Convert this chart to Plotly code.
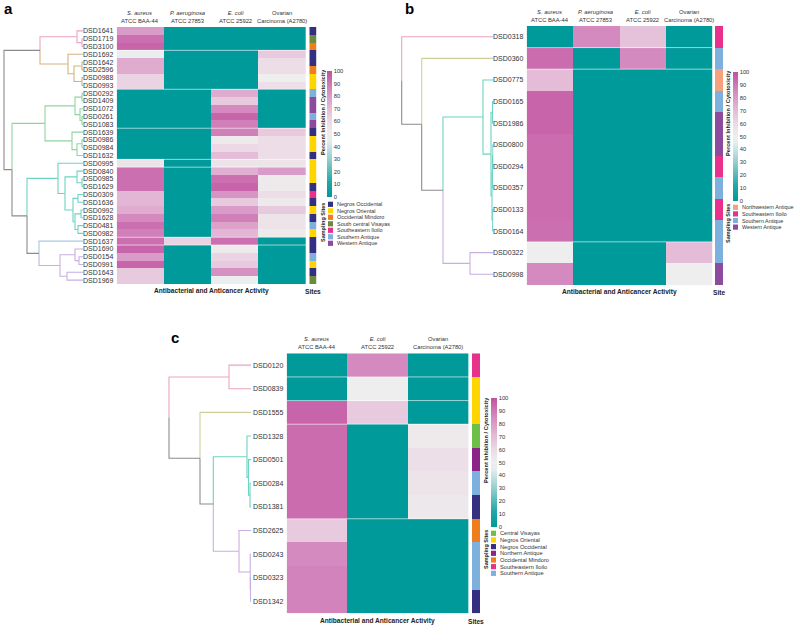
import plotly.graph_objects as go

W, H = 794, 626
FONT = "Liberation Sans, Arial, Helvetica, sans-serif"
TXT = "#333333"
GRAY = "#8c8c8c"


def fx(p):
    return p / W


def fy(p):
    return 1 - p / H


# ---------------- data ----------------
a_ids = ["DSD1641", "DSD1719", "DSD3100", "DSD1692", "DSD1642", "DSD2596", "DSD0988", "DSD0993",
         "DSD0292", "DSD1409", "DSD1072", "DSD0261", "DSD1083", "DSD1639", "DSD0986", "DSD0984",
         "DSD1632", "DSD0995", "DSD0840", "DSD0985", "DSD1629", "DSD0309", "DSD1636", "DSD0992",
         "DSD1628", "DSD0481", "DSD0982", "DSD1637", "DSD1690", "DSD0154", "DSD0991", "DSD1643",
         "DSD1969"]
a_sa = [80, 92, 95, 48, 75, 75, 62, 62, 0, 0, 0, 0, 0, 0, 0, 0, 0, 55, 92, 92, 92, 72, 72, 75,
        85, 92, 88, 92, 95, 80, 95, 65, 65]
a_pa = [0, 0, 0, 0, 0, 0, 0, 0, 0, 0, 0, 0, 0, 0, 0, 0, 0, 0, 0, 0, 0, 0, 0, 0,
        0, 0, 0, 62, 0, 0, 0, 0, 0]
a_ec = [0, 0, 0, 0, 0, 0, 0, 0, 75, 65, 85, 95, 88, 88, 52, 60, 70, 55, 74, 92, 95, 82, 65, 80,
        88, 78, 72, 92, 52, 62, 65, 83, 48]
a_ov = [0, 0, 0, 65, 58, 58, 50, 57, 0, 0, 0, 0, 0, 65, 58, 58, 58, 55, 80, 52, 52, 58, 52, 65,
        55, 55, 52, 0, 0, 0, 0, 0, 0]
a_site = ["Negros Occidental", "South central Visayas", "Occidental Mindoro", "Negros Occidental",
          "Negros Occidental", "Occidental Mindoro", "Negros Oriental", "Negros Oriental",
          "Southern Antique", "Western Antique", "Western Antique", "Southern Antique",
          "Western Antique", "Negros Occidental", "Negros Oriental", "Negros Oriental",
          "Negros Occidental", "Negros Oriental", "Negros Oriental", "Negros Oriental",
          "Negros Occidental", "Southeastern Iloilo", "Negros Occidental", "Negros Oriental",
          "Negros Occidental", "Southern Antique", "Negros Oriental", "Negros Occidental",
          "Negros Occidental", "Southern Antique", "Negros Oriental", "Negros Occidental",
          "South central Visayas"]
a_cols = ["<i>S. aureus</i><br>ATCC BAA-44", "<i>P. aeruginosa</i><br>ATCC 27853",
          "<i>E. coli</i><br>ATCC 25922", "Ovarian<br>Carcinoma (A2780)"]
a_site_order = ["Negros Occidental", "Negros Oriental", "Occidental Mindoro", "South central Visayas",
                "Southeastern Iloilo", "Southern Antique", "Western Antique"]
a_cluster = ["pink"] * 3 + ["tan"] * 5 + ["green"] * 9 + ["teal"] * 10 + ["blue"] + ["purple"] * 5
# merges: (child1, child2, height)
a_merges = [(1, 2, 1), (0, 33, 6), (4, 5, 1), (6, 7, 1), (35, 36, 9), (3, 37, 15), (34, 38, 43),
            (8, 9, 1), (11, 12, 1), (10, 41, 3), (40, 42, 8), (14, 15, 1), (44, 16, 6), (13, 45, 11),
            (43, 46, 38), (19, 20, 1), (18, 48, 6), (21, 22, 5), (23, 24, 2), (25, 26, 5), (51, 52, 8),
            (50, 53, 10), (49, 54, 18), (17, 55, 25), (29, 30, 4), (28, 57, 8), (31, 32, 16),
            (58, 59, 23), (27, 60, 44), (56, 61, 56), (47, 62, 71), (39, 63, 79)]
a_breaks = [2.5, 7.5, 12.5, 16.5, 17.5, 26.5, 27.5]

b_ids = ["DSD0318", "DSD0360", "DSD0775", "DSD0165", "DSD1986", "DSD0800", "DSD0294", "DSD0357",
         "DSD0133", "DSD0164", "DSD0322", "DSD0998"]
b_sa = [0, 93, 70, 95, 95, 93, 93, 93, 93, 92, 50, 85]
b_pa = [85, 0, 0, 0, 0, 0, 0, 0, 0, 0, 0, 0]
b_ec = [68, 85, 0, 0, 0, 0, 0, 0, 0, 0, 0, 0]
b_ov = [0, 0, 0, 0, 0, 0, 0, 0, 0, 0, 70, 50]
b_site = ["Southeastern Iloilo", "Southern Antique", "Northwestern Antique", "Southern Antique",
          "Western Antique", "Western Antique", "Southeastern Iloilo", "Southern Antique",
          "Southeastern Iloilo", "Southern Antique", "Southern Antique", "Western Antique"]
b_cols = a_cols
b_site_order = ["Northwestern Antique", "Southeastern Iloilo", "Southern Antique", "Western Antique"]
b_cluster = ["pink", "olive"] + ["teal"] * 8 + ["purple"] * 2
b_merges = [(3, 4, 1.0), (5, 6, 0.6), (13, 7, 1.0), (8, 9, 0.8), (14, 15, 1.5), (12, 16, 2.5),
            (2, 17, 10.5), (10, 11, 23.5), (18, 19, 50.5), (1, 20, 71.8), (0, 21, 91.8)]
b_breaks = [0.5, 1.5, 9.5]

c_ids = ["DSD0120", "DSD0839", "DSD1555", "DSD1328", "DSD0501", "DSD0284", "DSD1381", "DSD2625",
         "DSD0243", "DSD0323", "DSD1342"]
c_sa = [0, 0, 95, 93, 93, 93, 93, 65, 85, 87, 87]
c_ec = [85, 50, 65, 0, 0, 0, 0, 0, 0, 0, 0]
c_ov = [0, 0, 0, 52, 57, 55, 53, 0, 0, 0, 0]
c_site = ["Southeastern Iloilo", "Negros Oriental", "Negros Oriental", "Central Visayas",
          "Northern Antique", "Southern Antique", "Negros Occidental", "Occidental Mindoro",
          "Southern Antique", "Southern Antique", "Negros Occidental"]
c_cols = ["<i>S. aureus</i><br>ATCC BAA-44", "<i>E. coli</i><br>ATCC 25922",
          "Ovarian<br>Carcinoma (A2780)"]
c_site_order = ["Central Visayas", "Negros Oriental", "Negros Occidental", "Northern Antique",
                "Occidental Mindoro", "Southeastern Iloilo", "Southern Antique"]
c_cluster = ["pink"] * 2 + ["olive"] + ["teal"] * 4 + ["purple"] * 4
c_merges = [(0, 1, 22), (5, 6, 1.0), (4, 12, 2.5), (3, 13, 4), (9, 10, 0.4), (8, 15, 0.8),
            (7, 16, 12), (14, 17, 37.7), (2, 18, 51), (11, 19, 82)]
c_breaks = [0.5, 1.5, 2.5, 6.5]

cb_ticks = [0, 10, 20, 30, 40, 50, 60, 70, 80, 90, 100]

# ---------------- styles ----------------
SITE_COLORS = {
    "Negros Occidental": "#342f80",
    "Negros Oriental": "#ffd500",
    "Occidental Mindoro": "#f07d1c",
    "South central Visayas": "#6d8a3c",
    "Southeastern Iloilo": "#e8318a",
    "Southern Antique": "#7db0dc",
    "Western Antique": "#8c4b9d",
    "Northwestern Antique": "#f5a17d",
    "Central Visayas": "#6dbf47",
    "Northern Antique": "#8a2487",
}
CLUSTER_COLORS = {
    "pink": "#eba3c4", "tan": "#d4b37e", "green": "#93d3a0", "teal": "#6dd3c2",
    "blue": "#a9c7e6", "purple": "#c9aee0", "olive": "#cfcf9a",
}
COLORSCALE = [[0.0, "#009a9a"], [0.12, "#22a6a6"], [0.3, "#93cfcf"], [0.45, "#e6eded"],
              [0.5, "#eeeeee"], [0.6, "#ecd9e5"], [0.72, "#e2b6d4"], [0.86, "#d387bd"],
              [1.0, "#c2509e"]]

fig = go.Figure()
annotations = []
shapes = []
layout_axes = {}


def dendro_traces(n, merges, clusters, xa, ya):
    ypos = [float(i) for i in range(n)]
    hgt = [0.0] * n
    cl = [{c} for c in clusters]
    for (p, q, h) in merges:
        ypos.append((ypos[p] + ypos[q]) / 2)
        hgt.append(float(h))
        cl.append(cl[p] | cl[q])
    segs = {}
    for k, (p, q, h) in enumerate(merges):
        idx = n + k
        for ch in (p, q):
            col = CLUSTER_COLORS[next(iter(cl[ch]))] if len(cl[ch]) == 1 else GRAY
            xs, ys = segs.setdefault(col, ([], []))
            xs += [h, h, hgt[ch], None]
            ys += [ypos[idx], ypos[ch], ypos[ch], None]
    for col, (xs, ys) in segs.items():
        fig.add_trace(go.Scatter(x=xs, y=ys, mode="lines", line=dict(color=col, width=1.1),
                                 xaxis=xa, yaxis=ya, hoverinfo="skip", showlegend=False))


def panel(ids, cols_vals, col_labels, sites, site_order, clusters, merges, breaks, axn,
          hm_x, top, bottom, dendro_x, dendro_range, site_x, cb, leg, titles, letter):
    n = len(ids)
    yref = "y" if axn == 1 else "y%d" % ((axn + 2) // 3)
    xref = "x" if axn == 1 else "x%d" % axn
    xa_d, xa_s = "x%d" % (axn + 1), "x%d" % (axn + 2)
    xa_h_name = "xaxis" if axn == 1 else "xaxis%d" % axn
    ya_name = "yaxis" if axn == 1 else "yaxis%d" % ((axn + 2) // 3)
    ncol = len(col_labels)
    z = [list(r) for r in zip(*cols_vals)]
    fig.add_trace(go.Heatmap(
        z=z, x=list(range(ncol)), y=list(range(n)), colorscale=COLORSCALE, zmin=0, zmax=100,
        xaxis=xref, yaxis=yref, hoverinfo="skip",
        colorbar=dict(x=fx(cb[0]), xanchor="left", y=fy(cb[2]), yanchor="bottom",
                      len=cb[2] - cb[1], lenmode="pixels", thickness=cb[3], thicknessmode="pixels",
                      xpad=0, ypad=0, outlinewidth=0, tickvals=cb_ticks, ticks="",
                      tickfont=dict(size=5.8, family=FONT, color=TXT))))
    # sites
    site_idx = [[site_order.index(s)] for s in sites]
    m = len(site_order)
    scale = []
    for i, s in enumerate(site_order):
        scale += [[i / m, SITE_COLORS[s]], [(i + 1) / m, SITE_COLORS[s]]]
    fig.add_trace(go.Heatmap(z=site_idx, x=[0], y=list(range(n)), colorscale=scale,
                             zmin=-0.5, zmax=m - 0.5, showscale=False, hoverinfo="skip",
                             xaxis=xa_s, yaxis=yref))
    dendro_traces(n, merges, clusters, xa_d, yref)
    layout_axes[xa_h_name] = dict(domain=[fx(hm_x[0]), fx(hm_x[1])], range=[-0.5, ncol - 0.5],
                                  visible=False, anchor=yref)
    layout_axes["xaxis%d" % (axn + 1)] = dict(domain=[fx(dendro_x[0]), fx(dendro_x[1])],
                                              range=dendro_range, visible=False, anchor=yref)
    layout_axes["xaxis%d" % (axn + 2)] = dict(domain=[fx(site_x[0]), fx(site_x[1])],
                                              range=[-0.5, 0.5], visible=False, anchor=yref)
    layout_axes[ya_name] = dict(domain=[fy(bottom), fy(top)], range=[n - 0.5, -0.5],
                                visible=False, anchor=xref)
    # leaf labels
    for i, name in enumerate(ids):
        annotations.append(dict(text=name, xref=xref + " domain", x=0, xanchor="right", xshift=-1.5,
                                yref=yref, y=i, yanchor="middle", showarrow=False,
                                font=dict(size=7, family=FONT, color=TXT)))
    # column labels
    for i, lab in enumerate(col_labels):
        annotations.append(dict(text=lab, xref=xref, x=i, xanchor="center", yref=yref + " domain",
                                y=1, yanchor="bottom", yshift=1, showarrow=False,
                                font=dict(size=5.8, family=FONT, color=TXT)))
    # separators
    for b in breaks:
        shapes.append(dict(type="line", xref=xref + " domain", x0=0, x1=1, yref=yref, y0=b, y1=b,
                           line=dict(color="rgba(255,255,255,0.6)", width=1)))
    # axis titles
    annotations.append(dict(text="<b>Antibacterial and Anticancer Activity</b>", xref=xref + " domain",
                            x=0.5, xanchor="center", yref="paper", y=fy(titles[0]), yanchor="middle",
                            showarrow=False, font=dict(size=6.6, family=FONT, color="#222")))
    annotations.append(dict(text="<b>%s</b>" % titles[1], xref="x%d domain" % (axn + 2),
                            x=0.5, xanchor="center", yref="paper", y=fy(titles[0]), yanchor="middle",
                            showarrow=False, font=dict(size=6.6, family=FONT, color="#222")))
    # colorbar title
    annotations.append(dict(text="<b>Percent Inhibition / Cytotoxicity</b>", textangle=-90,
                            xref="paper", x=fx(cb[4]), xanchor="center", yref="paper",
                            y=fy(cb[5]), yanchor="middle", showarrow=False,
                            font=dict(size=5.7, family=FONT, color="#222")))
    # site legend
    lx, ly0, step, fsize, tcy = leg
    for i, s in enumerate(site_order):
        yc = ly0 + i * step
        shapes.append(dict(type="rect", xref="paper", yref="paper", x0=fx(lx), x1=fx(lx + 5),
                           y0=fy(yc + 2.6), y1=fy(yc - 2.6), fillcolor=SITE_COLORS[s],
                           line=dict(width=0)))
        annotations.append(dict(text=s, xref="paper", x=fx(lx + 6.5), xanchor="left", yref="paper",
                                y=fy(yc), yanchor="middle", showarrow=False,
                                font=dict(size=fsize, family=FONT, color=TXT)))
    annotations.append(dict(text="<b>Sampling Sites</b>", textangle=-90, xref="paper", x=fx(cb[4]),
                            xanchor="center", yref="paper", y=fy(tcy), yanchor="middle",
                            showarrow=False, font=dict(size=5.5, family=FONT, color="#222")))
    annotations.append(dict(text="<b>%s</b>" % letter[0], xref="paper", x=fx(letter[1]),
                            xanchor="left", yref="paper", y=fy(letter[2]), yanchor="middle",
                            showarrow=False, font=dict(size=15, family=FONT, color="#000")))


panel(a_ids, [a_sa, a_pa, a_ec, a_ov], a_cols, a_site, a_site_order, a_cluster, a_merges, a_breaks,
      1, (116.7, 306), 27, 284, (0, 83), [83, 0], (309.3, 316.7),
      (327, 71, 197, 5, 323, 112), (328, 204.3, 6.5, 5.5, 223), (291, "Sites"), ("a", 2, 8.8))
panel(b_ids, [b_sa, b_pa, b_ec, b_ov], b_cols, b_site, b_site_order, b_cluster, b_merges, b_breaks,
      4, (526.7, 712.3), 26, 285, (380, 493.5), [113.5, 0], (715, 723.3),
      (733, 72, 201, 5, 728, 113), (733, 207.3, 6.6, 5.4, 224), (292, "Site"), ("b", 403, 8.8))
panel(c_ids, [c_sa, c_ec, c_ov], c_cols, c_site, c_site_order, c_cluster, c_merges, c_breaks,
      7, (286.7, 468.5), 353.3, 613.3, (150, 251), [101, 0], (472, 480),
      (491, 398, 527, 5.5, 486, 440), (491, 533.3, 6.67, 5.7, 549), (621, "Sites"), ("c", 169, 337.5))

fig.update_layout(
    width=W, height=H, margin=dict(l=0, r=0, t=0, b=0), paper_bgcolor="white",
    plot_bgcolor="white", showlegend=False, annotations=annotations, shapes=shapes,
    font=dict(family=FONT), hovermode=False, **layout_axes)

fig.write_html("out.html", config={"displayModeBar": False, "staticPlot": True},
               post_script="document.body.style.margin='0px';document.body.style.padding='0px';"
                           "document.body.style.overflow='hidden';")
